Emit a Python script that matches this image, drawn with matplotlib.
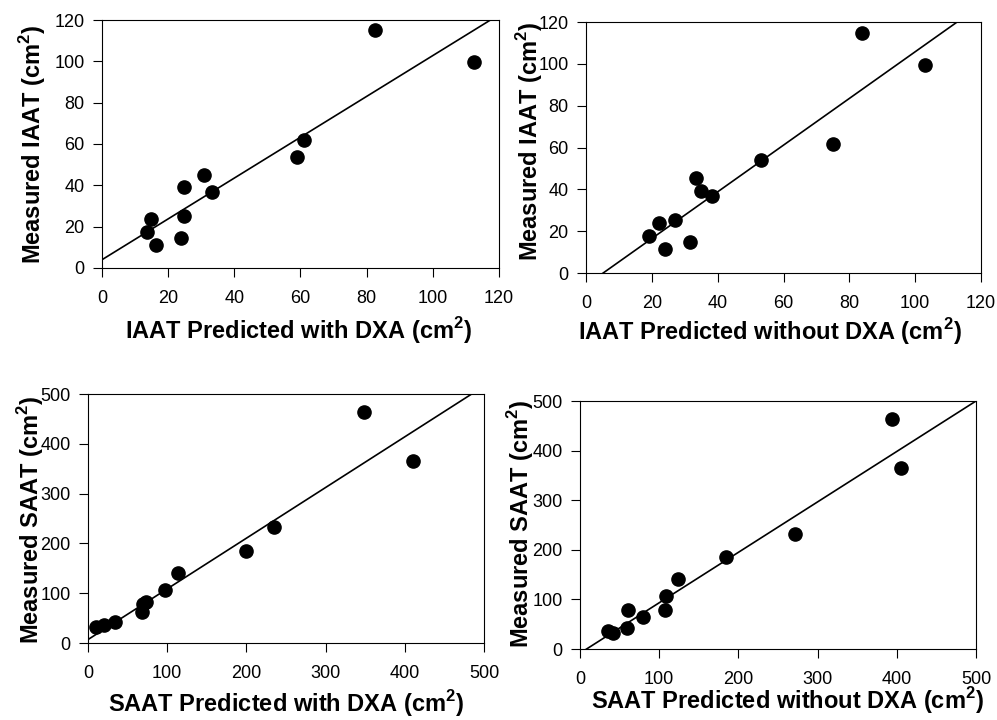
import numpy as np
import matplotlib
matplotlib.use('Agg')
import matplotlib.pyplot as plt

plt.rcParams['font.family'] = ['Liberation Sans', 'DejaVu Sans']
plt.rcParams['mathtext.fontset'] = 'custom'
plt.rcParams['mathtext.rm'] = 'Liberation Sans'
plt.rcParams['mathtext.bf'] = 'Liberation Sans:bold'

# IAAT, predicted with DXA vs measured
iaat_pred_dxa = [82.6, 112.3, 61.2, 58.9, 30.9, 33.2, 24.7, 24.7, 24.0, 14.9, 13.6, 16.4]
iaat_meas_dxa = [115.1, 99.7, 61.7, 53.9, 45.2, 36.7, 39.1, 25.1, 14.5, 23.7, 17.4, 11.0]
iaat_fit_dxa = [4.0, 0.988]   # intercept, slope

# IAAT, predicted without DXA vs measured
iaat_pred_nodxa = [83.7, 103.0, 75.1, 53.1, 33.3, 34.9, 38.3, 27.0, 22.3, 19.0, 23.9, 31.7]
iaat_meas_nodxa = [114.7, 99.3, 61.7, 53.9, 45.2, 39.3, 36.7, 25.2, 23.9, 17.7, 11.3, 14.8]
iaat_fit_nodxa = [-5.8, 1.116]

# SAAT, predicted with DXA vs measured
saat_pred_dxa = [349, 410.4, 199.7, 235.1, 113.5, 97.4, 73.0, 69.5, 67.8, 34.3, 20.6, 9.6]
saat_meas_dxa = [463.9, 366.1, 185.4, 232.3, 140.6, 106.8, 82.0, 77.5, 63.0, 42.3, 35.8, 31.8]
saat_fit_dxa = [7.0, 1.018]

# SAAT, predicted without DXA vs measured
saat_pred_nodxa = [393.4, 405.6, 272.1, 184.1, 123.4, 109.1, 107.0, 79.2, 61.1, 58.9, 42.1, 35.0]
saat_meas_nodxa = [463.0, 365.0, 231.9, 184.8, 140.5, 106.9, 79.3, 64.5, 78.0, 42.3, 32.3, 36.3]
saat_fit_nodxa = [-8.5, 1.017]

iaat_ticks = [0, 20, 40, 60, 80, 100, 120]
saat_ticks = [0, 100, 200, 300, 400, 500]

cm2 = r' (cm$^{\mathbf{2}}$)'


def panel(ax, x, y, fit, ticks, xlabel, ylabel, xl_pos, yl_pos):
    lim = ticks[-1]
    xs = np.array([0, lim])
    ax.plot(xs, fit[0] + fit[1] * xs, color='black', lw=1.2, zorder=2)
    ax.plot(x, y, 'o', color='black', ms=9.5, zorder=3)
    ax.set_xlim(0, lim)
    ax.set_ylim(0, lim)
    ax.set_xticks(ticks)
    ax.set_yticks(ticks)
    ax.tick_params(direction='out', length=6.5, width=0.8, labelsize=13)
    ax.tick_params(axis='x', pad=9)
    ax.tick_params(axis='y', pad=6)
    for s in ax.spines.values():
        s.set_linewidth(0.8)
    ax.set_xlabel(xlabel + cm2, fontsize=17, fontweight='bold', va='center')
    ax.set_ylabel(ylabel + cm2, fontsize=17, fontweight='bold', va='center')
    ax.xaxis.set_label_coords(*xl_pos)
    ax.yaxis.set_label_coords(*yl_pos)


fig = plt.figure(figsize=(9.97, 7.2), dpi=100)

ax1 = fig.add_axes([0.1023, 0.6278, 0.3982, 0.3444])
panel(ax1, iaat_pred_dxa, iaat_meas_dxa, iaat_fit_dxa, iaat_ticks,
      'IAAT Predicted with DXA', 'Measured IAAT', (0.495, -0.254), (-0.176, 0.5))

ax2 = fig.add_axes([0.5878, 0.6208, 0.3962, 0.3486])
panel(ax2, iaat_pred_nodxa, iaat_meas_nodxa, iaat_fit_nodxa, iaat_ticks,
      'IAAT Predicted without DXA', 'Measured IAAT', (0.466, -0.235), (-0.144, 0.526))

ax3 = fig.add_axes([0.0883, 0.1069, 0.3972, 0.3458])
panel(ax3, saat_pred_dxa, saat_meas_dxa, saat_fit_dxa, saat_ticks,
      'SAAT Predicted with DXA', 'Measured SAAT', (0.5, -0.245), (-0.144, 0.496))

ax4 = fig.add_axes([0.5817, 0.0986, 0.3972, 0.3444])
panel(ax4, saat_pred_nodxa, saat_meas_nodxa, saat_fit_nodxa, saat_ticks,
      'SAAT Predicted without DXA', 'Measured SAAT', (0.523, -0.206), (-0.149, 0.504))

plt.savefig('out.png', dpi=100)
